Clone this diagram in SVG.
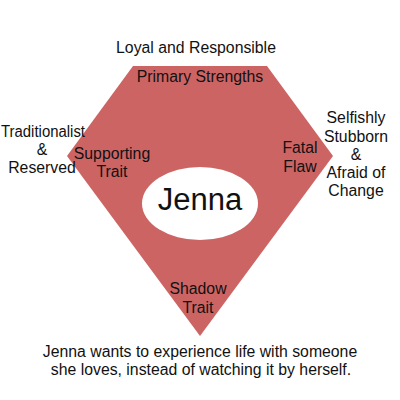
<svg xmlns="http://www.w3.org/2000/svg" width="400" height="400" viewBox="0 0 400 400">
<defs>
<style>
text{font-family:"Liberation Sans",Arial,sans-serif;font-size:15.8px;fill:#111;text-anchor:middle}
.big{font-size:31px}
</style>
<filter id="soft" x="-20%" y="-20%" width="140%" height="140%"><feGaussianBlur stdDeviation="0.5"/></filter>
</defs>
<rect width="400" height="400" fill="#fff"/>
<g id="gem">
<polygon points="133,66 267,66 333,156 200,336 67,156" fill="#cd6464"/>
</g>
<g id="center">
<ellipse cx="200" cy="203.5" rx="58" ry="36.5" fill="#fff" filter="url(#soft)"/>
<text class="big" x="200" y="210">Jenna</text>
</g>
<g id="primary">
<text x="196" y="53">Loyal and Responsible</text>
<text x="200" y="82">Primary Strengths</text>
</g>
<g id="supporting">
<text x="43" y="137" textLength="84" lengthAdjust="spacingAndGlyphs">Traditionalist</text>
<text x="42" y="155">&amp;</text>
<text x="42" y="173">Reserved</text>
<text x="112" y="159">Supporting</text>
<text x="112" y="177">Trait</text>
</g>
<g id="fatal">
<text x="300" y="153">Fatal</text>
<text x="300" y="172">Flaw</text>
<text x="356" y="123">Selfishly</text>
<text x="356" y="142">Stubborn</text>
<text x="356" y="160">&amp;</text>
<text x="356" y="178">Afraid of</text>
<text x="356" y="196">Change</text>
</g>
<g id="shadow">
<text x="198" y="294">Shadow</text>
<text x="198" y="313">Trait</text>
</g>
<g id="caption">
<text x="200" y="357">Jenna wants to experience life with someone</text>
<text x="201" y="375">she loves, instead of watching it by herself.</text>
</g>
</svg>
